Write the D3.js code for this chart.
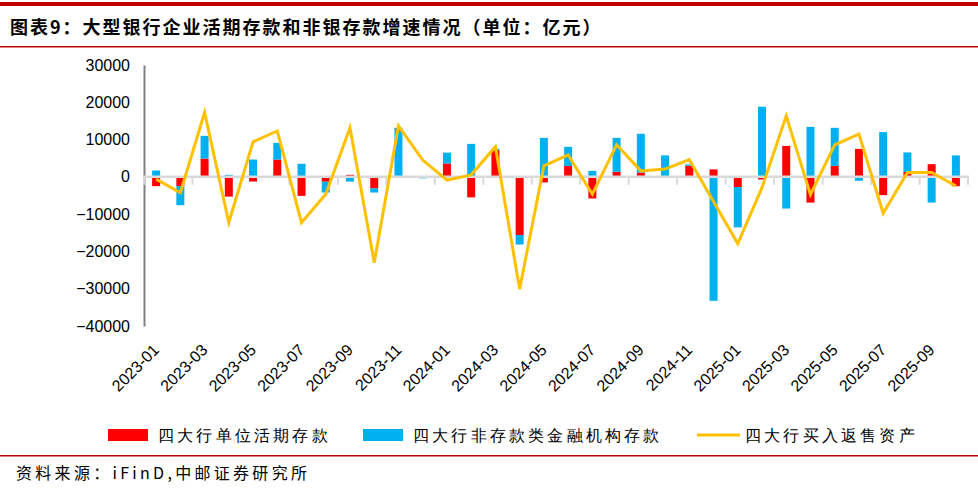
<!DOCTYPE html>
<html lang="zh">
<head>
<meta charset="utf-8">
<title>图表9</title>
<script src="https://d3js.org/d3.v7.min.js"></script>
<style>
  body { margin: 0; background: #fff; }
  text { font-family: "Liberation Sans", Arial, sans-serif; }
  .cn { font-family: "Noto Sans CJK SC", sans-serif; }
</style>
</head>
<body>
<svg id="chart" width="978" height="494"></svg>
<script>
// months on the x axis
let months = ["2023-01","2023-02","2023-03","2023-04","2023-05","2023-06","2023-07","2023-08","2023-09","2023-10","2023-11","2023-12",
              "2024-01","2024-02","2024-03","2024-04","2024-05","2024-06","2024-07","2024-08","2024-09","2024-10","2024-11","2024-12",
              "2025-01","2025-02","2025-03","2025-04","2025-05","2025-06","2025-07","2025-08","2025-09","2025-10"];
// 四大行单位活期存款
let redVals = [-2500, -2500, 4900, -5300, -1250, 4650, -5100, -1300, 540, -3100, 0, 0,
               3600, -5500, 7150, -15600, -1500, 2950, -5800, 1350, 1150, 0, 3000, 2000,
               -2750, -700, 8300, -6900, 2950, 7500, -4900, 1300, 3400, -2500];
// 四大行非存款类金融机构存款
let blueVals = [1700, -5100, 6100, 540, 4650, 4450, 3500, -2900, -1250, -1100, 13150, -400,
                2900, 8850, 350, -2550, 10450, 5100, 1600, 9100, 10400, 5750, 350, -33250,
                -10800, 18800, -8500, 13400, 10200, -1050, 12000, 5250, -6900, 5750];
// 四大行买入返售资产
let lineVals = [-600, -4250, 17250, -12250, 9400, 12300, -12250, -4650, 13200, -23000, 13700, 4500,
                -900, 540, 8100, -30100, 2950, 5900, -4650, 8600, 1600, 2100, 4600, -6600,
                -17900, -2900, 16350, -4800, 8600, 11450, -9750, 1200, 1200, -2450];
let yTicks = [30000, 20000, 10000, 0, -10000, -20000, -30000, -40000];
let seriesNames = ["四大行单位活期存款", "四大行非存款类金融机构存款", "四大行买入返售资产"];
let colors = ["#FF0000", "#00B0F0", "#FFC000"];

let svg = d3.select("#chart");

// header / footer frame
svg.append("rect").attr("x", 0).attr("y", 2).attr("width", 978).attr("height", 4).attr("fill", "#C00000");
svg.append("text").attr("class", "cn").attr("x", 10).attr("y", 34)
   .attr("font-size", 18).attr("font-weight", "bold").attr("letter-spacing", 2).attr("fill", "#000")
   .text("图表9：大型银行企业活期存款和非银存款增速情况（单位：亿元）");
svg.append("rect").attr("x", 0).attr("y", 46).attr("width", 978).attr("height", 1.5).attr("fill", "#C00000");
svg.append("rect").attr("x", 0).attr("y", 455).attr("width", 978).attr("height", 1.5).attr("fill", "#C00000");
svg.append("text").attr("class", "cn").attr("x", 16).attr("y", 479)
   .attr("font-size", 16).attr("letter-spacing", 3.3).attr("fill", "#000")
   .text("资料来源：iFinD,中邮证券研究所");

// scales
let left = 144, right = 968;
let x = d3.scaleBand().domain(months).range([left, right]).paddingInner(0.67).paddingOuter(0.335);
let y = d3.scaleLinear().domain([-40000, 30000]).range([326, 65]);

// stacked bars (diverging)
let table = months.map(function(m, i) { return {month: m, red: redVals[i], blue: blueVals[i]}; });
let stacked = d3.stack().keys(["red", "blue"]).offset(d3.stackOffsetDiverging)(table);

let g = svg.append("g");
g.selectAll("g.series")
  .data(stacked)
  .enter().append("g")
  .attr("class", "series")
  .attr("fill", function(d, i) { return colors[i]; })
  .selectAll("rect")
  .data(function(d) { return d; })
  .enter().append("rect")
  .attr("x", function(d) { return x(d.data.month); })
  .attr("width", x.bandwidth())
  .attr("y", function(d) { return y(Math.max(d[0], d[1])); })
  .attr("height", function(d) { return Math.abs(y(d[0]) - y(d[1])); });

// y axis
let yAxis = d3.axisLeft(y).tickValues(yTicks).tickSize(0).tickPadding(14).tickFormat(d3.format("d"));
let ya = svg.append("g").attr("transform", "translate(" + left + ",0)").call(yAxis);
ya.select(".domain").attr("stroke", "#808080").attr("stroke-width", 2);
ya.selectAll("text").attr("font-size", 16).attr("fill", "#000")
  .attr("font-family", "'Liberation Sans', Arial, sans-serif");

// zero line with tick marks every two months
let step = x.step();
svg.append("line").attr("x1", left).attr("x2", right + 1).attr("y1", y(0)).attr("y2", y(0))
   .attr("stroke", "#D9D9D9").attr("stroke-width", 2.5);
let tickIdx = d3.range(0, months.length + 1, 2);
svg.selectAll("line.xt").data(tickIdx).enter().append("line").attr("class", "xt")
   .attr("x1", function(i) { return left + i * step; })
   .attr("x2", function(i) { return left + i * step; })
   .attr("y1", y(0)).attr("y2", y(0) + 8)
   .attr("stroke", "#D9D9D9").attr("stroke-width", 2);

// x labels, rotated
let labelMonths = months.filter(function(m, i) { return i % 2 === 0; });
svg.selectAll("text.xl").data(labelMonths).enter().append("text").attr("class", "xl")
   .attr("transform", function(m) {
       return "translate(" + (x(m) + x.bandwidth() / 2 + 4) + ",351) rotate(-45)";
   })
   .attr("text-anchor", "end").attr("font-size", 16).attr("fill", "#000")
   .text(function(m) { return m; });

// line series
let line = d3.line()
  .x(function(d, i) { return x(months[i]) + x.bandwidth() / 2; })
  .y(function(d) { return y(d); });
svg.append("path").datum(lineVals)
   .attr("d", line).attr("fill", "none")
   .attr("stroke", colors[2]).attr("stroke-width", 3).attr("stroke-linejoin", "miter");

// legend
let lg = svg.append("g").attr("class", "cn").attr("font-size", 16).attr("letter-spacing", 3.2);
lg.append("rect").attr("x", 108).attr("y", 429).attr("width", 40).attr("height", 12).attr("fill", colors[0]);
lg.append("text").attr("x", 158).attr("y", 441).text(seriesNames[0]);
lg.append("rect").attr("x", 363).attr("y", 429).attr("width", 40).attr("height", 12).attr("fill", colors[1]);
lg.append("text").attr("x", 413).attr("y", 441).text(seriesNames[1]);
lg.append("line").attr("x1", 697).attr("x2", 740).attr("y1", 435).attr("y2", 435)
  .attr("stroke", colors[2]).attr("stroke-width", 3);
lg.append("text").attr("x", 745).attr("y", 441).text(seriesNames[2]);
</script>
</body>
</html>
